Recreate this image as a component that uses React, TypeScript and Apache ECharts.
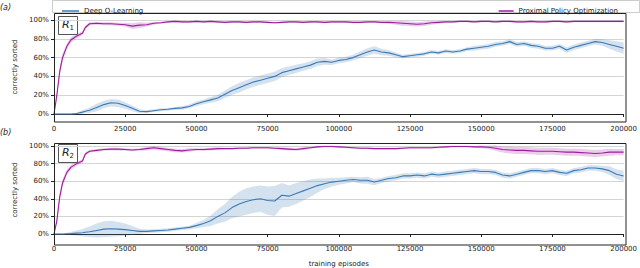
import React, { useEffect, useRef } from "react";
import * as echarts from "echarts";

// training episodes (x positions of the read samples)
const episodes = [
  0, 1000, 2000, 3000, 4500, 6000, 8000, 10000, 11000, 12500,
  15000, 17500, 20000, 22500, 25000, 27500, 30000, 32500, 35000, 37500,
  40000, 42500, 45000, 47500, 50000, 52500, 55000, 57500, 60000, 62500,
  65000, 67500, 70000, 72500, 75000, 77500, 80000, 82500, 85000, 87500,
  90000, 92500, 95000, 97500, 100000, 102500, 105000, 107500, 110000, 112500,
  115000, 117500, 120000, 122500, 125000, 127500, 130000, 132500, 135000, 137500,
  140000, 142500, 145000, 147500, 150000, 152500, 155000, 157500, 160000, 162500,
  165000, 167500, 170000, 172500, 175000, 177500, 180000, 182500, 185000, 187500,
  190000, 192500, 195000, 197500, 200000,
];

// Panel (a) R1 — Deep Q-Learning
const dqn1 = [
  0, 0, 0, 0, 0, 0, 0.5, 2, 3, 4,
  7, 10, 12, 11.5, 9, 6, 3, 2.5, 3.5, 4.5,
  5, 6, 6.5, 8, 11, 13, 15, 17, 21, 25,
  28, 31, 34, 36, 38, 40, 44, 46, 48, 50,
  52, 55, 56, 55, 57, 58, 60, 63, 66, 68,
  66, 65, 63, 61, 62, 63, 64, 66, 65, 67,
  66, 67, 69, 70, 71, 72, 74, 75, 77, 74,
  75, 73, 72, 70, 70, 72, 68, 71, 73, 75,
  77, 76, 74, 72, 70,
];
const dqn1Spread = [
  0.5, 0.5, 0.5, 0.5, 0.5, 0.5, 1, 2, 2, 3,
  4, 4, 4, 4, 3.5, 3, 2, 1.5, 1.5, 1.5,
  1.5, 1.5, 2, 2, 2.5, 2.5, 3, 3.5, 4, 4.5,
  5, 5, 5, 5, 5, 5, 5, 4.5, 4.5, 4,
  4, 4, 3.5, 3, 3, 3, 3, 3.5, 4, 4,
  3.5, 3, 2.5, 2, 2, 2, 2, 2, 2, 2,
  2, 2, 2, 2.5, 2.5, 2.5, 2.5, 2.5, 2.5, 2.5,
  2.5, 2.5, 2.5, 2.5, 2.5, 2.5, 3, 3, 3, 3,
  3, 3.5, 4.5, 5.5, 6,
];
// Panel (a) R1 — Proximal Policy Optimization
const ppo1 = [
  0, 20, 45, 60, 72, 79, 83, 86, 92, 96,
  96.5, 96, 96, 95.5, 95, 93.5, 94.5, 95, 96.5, 97,
  98, 98.5, 98, 98, 98.5, 98, 98.5, 98, 97.5, 98,
  98, 97.5, 98, 98, 97.5, 97, 97.5, 98, 98, 97.5,
  98, 98, 97.5, 98, 98, 98, 97.5, 97.5, 98, 98,
  97.5, 97.5, 97, 96.5, 96, 95.5, 96, 97, 97.5, 98,
  98, 98.5, 98.5, 98, 98.5, 98.5, 98, 98.5, 98.5, 98,
  98, 98.5, 98, 98, 98.5, 98.5, 98, 98.5, 98.5, 98.5,
  98.5, 98.5, 98.5, 98.5, 98.5,
];
const ppo1Spread = [
  0, 3, 4, 4, 3, 3, 2.5, 2, 2, 1.5,
  1.5, 1.5, 1.5, 1.5, 2, 3, 3, 2, 1.5, 1,
  1, 1, 1, 1, 1, 1, 1, 1, 1, 1,
  1, 1, 1, 1, 1, 1, 1, 1, 1, 1,
  1, 1, 1, 1, 1, 1, 1, 1, 1, 1,
  1, 1.5, 2, 2.5, 2.5, 2.5, 2.5, 2, 1.5, 1,
  1, 1, 1, 1, 1, 1, 1, 1, 1, 1,
  1, 1, 1, 1, 1, 1, 1, 1, 1, 1,
  1, 1, 1, 1, 1,
];

// Panel (b) R2 — Deep Q-Learning
const dqn2 = [
  0, 0, 0, 0, 0.3, 0.5, 1, 1.5, 2, 2.5,
  4, 5.5, 6, 5.5, 5, 4, 3, 3, 3.5, 4,
  4.5, 5.5, 6.5, 7.5, 9.5, 12, 15, 20, 24, 30,
  34, 37, 39, 40, 38, 37.5, 44, 43, 46, 49,
  52, 55, 57, 59, 60, 61, 62, 61, 61, 59,
  61, 63, 64, 66, 66, 67, 66, 68, 67, 68,
  69, 70, 71, 72, 71, 71, 70, 67, 66, 68,
  70, 72, 72, 71, 72, 70, 69, 72, 73, 75,
  75, 74, 72, 68, 66,
];
const dqn2Spread = [
  0.5, 0.5, 0.5, 0.5, 1, 2, 3, 4, 5, 6,
  8, 9, 9, 8, 7, 5, 3, 2, 2, 2,
  2, 2, 2, 2, 3, 4, 6, 8, 10, 12,
  14, 15, 15, 15, 16, 17, 14, 12, 12, 11,
  10, 8, 6, 5, 4, 3.5, 3, 3.5, 4, 3.5,
  3, 3, 3, 3, 3, 3, 3, 3, 3, 3,
  3, 3, 3, 3, 3, 3, 3, 3, 3, 3,
  3, 3, 3, 3, 3, 3, 3, 3, 3, 3,
  3, 3.5, 5, 5.5, 6,
];
// Panel (b) R2 — Proximal Policy Optimization
const ppo2 = [
  0, 15, 42, 58, 70, 76, 80, 83, 91, 94,
  95, 96, 96.5, 96.5, 96, 95.5, 96, 97, 98, 97,
  96, 95, 94.5, 95.5, 96, 96, 96.5, 97, 97, 97,
  97.5, 97.5, 98, 98, 98, 97.5, 97, 96.5, 96, 97,
  98, 99, 99.5, 99.5, 99, 98.5, 98, 97.5, 97.5, 97,
  97, 97, 97, 97.5, 98, 98, 98, 98, 98.5, 99,
  99.5, 99.5, 99.5, 99, 99, 98.5, 97.5, 96, 95.5, 95,
  95, 94.5, 94, 94, 94, 93.5, 93, 93, 92.5, 92,
  91.5, 92, 93, 93, 93,
];
const ppo2Spread = [
  0, 3, 4, 4, 3, 3, 2.5, 2, 2, 1.5,
  1.5, 1.5, 1.5, 1.5, 1.5, 1.5, 1.5, 2, 2, 2,
  2, 2, 2, 2, 1.5, 1.5, 1.5, 1.5, 1, 1,
  1, 1, 1, 1, 1, 1, 1.5, 1.5, 1.5, 1.5,
  1, 1, 1, 1, 1, 1, 1, 1, 1, 1,
  1, 1, 1, 1, 1, 1, 1, 1, 1, 1,
  1, 1, 1, 1, 1.5, 2, 3, 3.5, 4, 4,
  4, 4, 4, 4, 4, 4, 4, 4, 4, 4,
  4, 4, 4, 3.5, 3.5,
];

const xTicks = [0, 25000, 50000, 75000, 100000, 125000, 150000, 175000, 200000];
const yTicks = [0, 20, 40, 60, 80, 100];

const DQN_NAME = "Deep Q-Learning";
const PPO_NAME = "Proximal Policy Optimization";
const DQN_COLOR = "#3a7ab5";
const DQN_BAND = "rgba(58,122,181,0.22)";
const PPO_COLOR = "#9e1c9e";
const PPO_BAND = "rgba(158,28,158,0.22)";
const FONT = "DejaVu Sans";

function band(idx: number, mean: number[], spread: number[], color: string) {
  return {
    type: "custom",
    xAxisIndex: idx,
    yAxisIndex: idx,
    silent: true,
    z: 1,
    data: [[0, 0]],
    renderItem: (_params: any, api: any) => {
      const pts: number[][] = [];
      for (let i = 0; i < episodes.length; i++) {
        pts.push(api.coord([episodes[i], mean[i] + spread[i]]));
      }
      for (let i = episodes.length - 1; i >= 0; i--) {
        pts.push(api.coord([episodes[i], mean[i] - spread[i]]));
      }
      return { type: "polygon", shape: { points: pts }, style: { fill: color } };
    },
  };
}

function line(idx: number, name: string, values: number[], color: string, z: number) {
  return {
    type: "line",
    name,
    xAxisIndex: idx,
    yAxisIndex: idx,
    data: episodes.map((x, i) => [x, values[i]]),
    showSymbol: false,
    symbol: "none",
    clip: false,
    z,
    lineStyle: { color, width: 1.1 },
    itemStyle: { color },
  };
}

function xAxis(idx: number, withName: boolean) {
  return {
    type: "value",
    gridIndex: idx,
    min: xTicks[0],
    max: xTicks[xTicks.length - 1],
    interval: 25000,
    offset: 8,
    axisLine: { show: true, lineStyle: { color: "#222", width: 1 } },
    axisTick: { show: true, length: 3, lineStyle: { color: "#222" } },
    axisLabel: {
      fontFamily: FONT,
      fontSize: 7,
      color: "#222",
      margin: 3,
      formatter: (v: number) => String(v),
    },
    splitLine: { show: false },
    name: withName ? "training episodes" : "",
    nameLocation: "middle",
    nameGap: 18,
    nameTextStyle: { fontFamily: FONT, fontSize: 7, color: "#222" },
  };
}

function yAxis(idx: number) {
  return {
    type: "value",
    gridIndex: idx,
    min: yTicks[0],
    max: yTicks[yTicks.length - 1],
    interval: 20,
    axisLine: { show: false },
    axisTick: { show: true, length: 3, lineStyle: { color: "#222" } },
    axisLabel: { fontFamily: FONT, fontSize: 7, color: "#222", margin: 5, formatter: "{value}%" },
    splitLine: { show: true, lineStyle: { color: "#d4d4d4", width: 1 } },
    name: "correctly sorted",
    nameLocation: "middle",
    nameGap: 33,
    nameTextStyle: { fontFamily: FONT, fontSize: 7, color: "#222" },
  };
}

function rBox(y: number, sub: string) {
  return {
    type: "group",
    children: [
      {
        type: "rect",
        shape: { x: 58.5, y: y + 0.5, width: 19, height: 18 },
        style: { fill: "#fff", stroke: "#555", lineWidth: 1 },
      },
      {
        type: "text",
        x: 62,
        y: y + 3,
        style: { text: "R", font: `italic 11px ${FONT}`, fill: "#222" },
      },
      {
        type: "text",
        x: 69.5,
        y: y + 8,
        style: { text: sub, font: `7px ${FONT}`, fill: "#222" },
      },
    ],
    z: 100,
  };
}

export default function App() {
  const ref = useRef<HTMLDivElement>(null);
  useEffect(() => {
    if (!ref.current) return;
    const chart = echarts.init(ref.current, undefined, { renderer: "svg" });
    chart.setOption({
      animation: false,
      backgroundColor: "#fff",
      textStyle: { fontFamily: FONT },
      grid: [
        { left: 54, top: 20, width: 572, height: 94 },
        { left: 54, top: 146, width: 572, height: 91 },
      ],
      xAxis: [xAxis(0, false), xAxis(1, true)],
      yAxis: [yAxis(0), yAxis(1)],
      legend: [
        {
          data: [DQN_NAME],
          left: 57,
          top: 2,
          icon: "rect",
          itemWidth: 17,
          itemHeight: 1.5,
          textStyle: { fontFamily: FONT, fontSize: 7, color: "#222", lineHeight: 8 },
          selectedMode: false,
          z: 10,
        },
        {
          data: [PPO_NAME],
          right: 17,
          top: 2,
          icon: "rect",
          itemWidth: 15,
          itemHeight: 1.5,
          textStyle: { fontFamily: FONT, fontSize: 7, color: "#222", lineHeight: 8 },
          selectedMode: false,
          z: 10,
        },
      ],
      graphic: [
        {
          type: "rect",
          shape: { x: 52.5, y: 0.5, width: 587, height: 12 },
          style: { fill: "#fff", stroke: "#cccccc", lineWidth: 1 },
          z: -1,
        },
        {
          type: "rect",
          shape: { x: 54.5, y: 13.5, width: 571.5, height: 108.5 },
          style: { fill: "none", stroke: "#222", lineWidth: 1 },
          silent: true,
          z: 50,
        },
        {
          type: "rect",
          shape: { x: 54.5, y: 143.5, width: 571.5, height: 101.5 },
          style: { fill: "none", stroke: "#222", lineWidth: 1 },
          silent: true,
          z: 50,
        },
        {
          type: "text",
          x: 0,
          y: 3,
          style: { text: "(a)", font: `italic 8px ${FONT}`, fill: "#222" },
        },
        {
          type: "text",
          x: 0,
          y: 128,
          style: { text: "(b)", font: `italic 8px ${FONT}`, fill: "#222" },
        },
        rBox(16, "1"),
        rBox(144, "2"),
      ],
      series: [
        band(0, dqn1, dqn1Spread, DQN_BAND),
        band(0, ppo1, ppo1Spread, PPO_BAND),
        line(0, DQN_NAME, dqn1, DQN_COLOR, 3),
        line(0, PPO_NAME, ppo1, PPO_COLOR, 4),
        band(1, dqn2, dqn2Spread, DQN_BAND),
        band(1, ppo2, ppo2Spread, PPO_BAND),
        line(1, DQN_NAME, dqn2, DQN_COLOR, 3),
        line(1, PPO_NAME, ppo2, PPO_COLOR, 4),
      ],
    });
    return () => chart.dispose();
  }, []);
  return (
    <div
      ref={ref}
      style={{ position: "fixed", left: 0, top: 0, width: 640, height: 268 }}
    />
  );
}
